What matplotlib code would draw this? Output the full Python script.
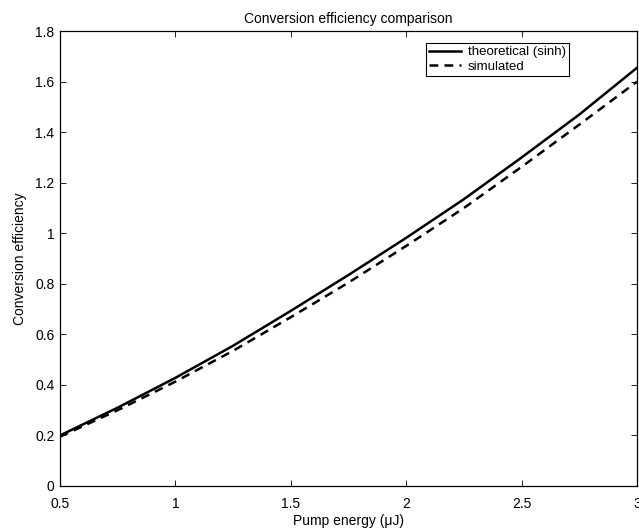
import numpy as np
import matplotlib.pyplot as plt

plt.rcParams['font.family'] = ['Liberation Sans', 'DejaVu Sans']

# pump energy (uJ)
energy = [0.5, 0.75, 1.0, 1.25, 1.5, 1.75, 2.0, 2.25, 2.5, 2.75, 3.0]
# conversion efficiency
theoretical = [0.200, 0.310, 0.428, 0.555, 0.693, 0.835, 0.982, 1.135, 1.300, 1.470, 1.655]
simulated = [0.195, 0.300, 0.413, 0.535, 0.668, 0.805, 0.950, 1.100, 1.263, 1.430, 1.600]

xticks = [0.5, 1, 1.5, 2, 2.5, 3]
xticklabels = ['0.5', '1', '1.5', '2', '2.5', '3']
yticks = [0, 0.2, 0.4, 0.6, 0.8, 1, 1.2, 1.4, 1.6, 1.8]
yticklabels = ['0', '0.2', '0.4', '0.6', '0.8', '1', '1.2', '1.4', '1.6', '1.8']

fig = plt.figure(figsize=(6.39, 5.32), dpi=100)
ax = fig.add_axes([0.0939, 0.0865, 0.903, 0.855])

ax.plot(energy, theoretical, color='black', lw=1.8, label='theoretical (sinh)')
ax.plot(energy, simulated, color='black', lw=1.8, dashes=(3.5, 2.5), label='simulated')

ax.set_xlim(0.5, 3)
ax.set_ylim(0, 1.8)
ax.set_xticks(xticks)
ax.set_xticklabels(xticklabels)
ax.set_yticks(yticks)
ax.set_yticklabels(yticklabels)
ax.tick_params(direction='in', top=True, right=True, length=4, width=0.6,
               labelsize=10, colors='black')
ax.tick_params(axis='x', pad=8)
ax.tick_params(axis='y', pad=4)
for s in ax.spines.values():
    s.set_linewidth(0.9)

ax.set_title('Conversion efficiency comparison', fontsize=10, pad=6)
ax.set_xlabel('Pump energy (\u03bcJ)', fontsize=10, labelpad=2)
ax.set_ylabel('Conversion efficiency', fontsize=10, labelpad=6)

leg = ax.legend(loc='upper right', bbox_to_anchor=(0.882, 0.974), borderaxespad=0,
                fontsize=9.5, fancybox=False, framealpha=1, edgecolor='black',
                handlelength=2.4, borderpad=0.25, labelspacing=0.15, handletextpad=0.5)
leg.get_frame().set_linewidth(0.8)

fig.savefig('out.png', dpi=100)
